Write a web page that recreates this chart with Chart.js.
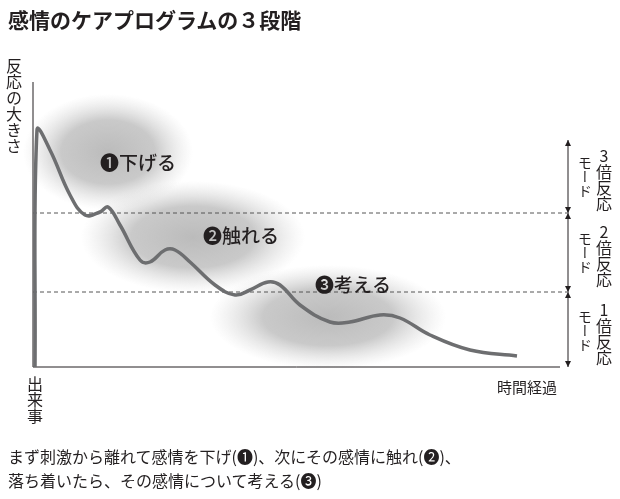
<!DOCTYPE html>
<html><head><meta charset="utf-8">
<script src="https://cdn.jsdelivr.net/npm/chart.js@4"></script>
<style>
body{margin:0;background:#fff;font-family:"Noto Sans CJK JP",sans-serif;color:#231f20}
#wrap{position:relative;width:620px;height:499px}
canvas{position:absolute;left:0;top:0}
.t{position:absolute;white-space:nowrap}
.v{position:absolute;writing-mode:vertical-rl;text-orientation:upright;font-size:16px;line-height:1;letter-spacing:0}
.mode{position:absolute;writing-mode:vertical-rl;font-size:14px;line-height:1}
</style></head><body>
<div id="wrap">
<canvas id="c" width="620" height="499"></canvas>
<div class="t" style="left:8px;top:4px;font-size:21px;font-weight:bold">感情のケアプログラムの３段階</div>
<div class="v" style="left:6px;top:58px">反応の大きさ</div>
<div class="v" style="left:27px;top:376px">出来事</div>
<div class="t" style="left:497px;top:376px;font-size:15px">時間経過</div>
<div class="t" style="left:8px;top:444px;font-size:16px;line-height:24px">まず刺激から離れて感情を下げ(❶)、次にその感情に触れ(❷)、<br>落ち着いたら、その感情について考える(❸)</div>
<div class="mode" style="left:578px;top:156px">モード</div><div class="v" style="left:596px;top:148px">3倍反応</div>
<div class="mode" style="left:578px;top:232px">モード</div><div class="v" style="left:596px;top:224px">2倍反応</div>
<div class="mode" style="left:578px;top:310px">モード</div><div class="v" style="left:596px;top:302px">1倍反応</div>
</div>
<script>
// curve (x: time, y: reaction size)
const curveX = [2, 4, 17, 37, 52, 67, 75, 87, 107, 117, 132, 142, 157, 182, 202, 217, 235, 247, 267, 297, 317, 347, 367, 397, 437, 484];
const curveY = [0, 237, 217, 172, 152, 155, 160, 142, 107, 105, 117, 117, 105, 82, 72, 77, 85, 82, 62, 45, 45, 52, 49, 32, 17, 11];
const levelLines = [154, 75];
const bracketMarks = [227, 154, 75, 0];
const blobs = [
  {x: 75, y: 215, rx: 85, ry: 58, label: '❶下げる'},
  {x: 160, y: 130, rx: 112, ry: 56, label: '❷触れる'},
  {x: 295, y: 50, rx: 118, ry: 52, label: '❸考える'}
];
const labelPos = [[67, 204], [170, 131], [282, 82]];

const deco = {
  id: 'deco',
  beforeDatasetsDraw(chart) {
    const {ctx, chartArea: a, scales: {x, y}} = chart;
    ctx.save();
    blobs.forEach(b => {
      const cx = x.getPixelForValue(b.x), cy = y.getPixelForValue(b.y);
      ctx.save();
      ctx.translate(cx, cy); ctx.scale(b.rx / b.ry, 1);
      const g = ctx.createRadialGradient(0, 0, 0, 0, 0, b.ry);
      g.addColorStop(0, 'rgba(180,180,180,0.9)');
      g.addColorStop(0.55, 'rgba(188,188,188,0.8)');
      g.addColorStop(1, 'rgba(215,215,215,0)');
      ctx.fillStyle = g;
      ctx.beginPath(); ctx.arc(0, 0, b.ry, 0, Math.PI * 2); ctx.fill();
      ctx.restore();
    });
    ctx.strokeStyle = '#555'; ctx.lineWidth = 1; ctx.setLineDash([4, 3]);
    levelLines.forEach(v => {
      const py = y.getPixelForValue(v);
      ctx.beginPath(); ctx.moveTo(a.left, py); ctx.lineTo(a.right + 7, py); ctx.stroke();
    });
    ctx.setLineDash([]);
    ctx.strokeStyle = '#231f20';
    ctx.beginPath(); ctx.moveTo(a.left, a.top); ctx.lineTo(a.left, a.bottom); ctx.lineTo(a.right, a.bottom); ctx.stroke();
    const bx = a.right + 8;
    ctx.beginPath(); ctx.moveTo(bx, y.getPixelForValue(bracketMarks[0])); ctx.lineTo(bx, a.bottom); ctx.stroke();
    ctx.fillStyle = '#231f20';
    bracketMarks.forEach((v, i) => {
      const py = y.getPixelForValue(v);
      if (i < bracketMarks.length - 1) { ctx.beginPath(); ctx.moveTo(bx, py); ctx.lineTo(bx - 3, py + 6); ctx.lineTo(bx + 3, py + 6); ctx.fill(); }
      if (i > 0) { ctx.beginPath(); ctx.moveTo(bx, py); ctx.lineTo(bx - 3, py - 6); ctx.lineTo(bx + 3, py - 6); ctx.fill(); }
    });
    ctx.restore();
  },
  afterDatasetsDraw(chart) {
    const {ctx, scales: {x, y}} = chart;
    ctx.save();
    ctx.fillStyle = '#231f20';
    ctx.font = '500 19px "Noto Sans CJK JP"';
    ctx.textBaseline = 'middle';
    blobs.forEach((b, i) => ctx.fillText(b.label, x.getPixelForValue(labelPos[i][0]), y.getPixelForValue(labelPos[i][1])));
    ctx.restore();
  }
};

new Chart(document.getElementById('c'), {
  type: 'line',
  data: {
    datasets: [{
      data: curveX.map((v, i) => ({x: v, y: curveY[i]})),
      borderColor: '#6d6e70', borderWidth: 3.5, tension: 0.4, pointRadius: 0, fill: false
    }]
  },
  options: {
    responsive: false, animation: false,
    layout: {padding: {left: 33, right: 60, top: 82, bottom: 132}},
    plugins: {legend: {display: false}, tooltip: {enabled: false}},
    scales: {
      x: {type: 'linear', min: 0, max: 527, display: false},
      y: {min: 0, max: 285, display: false}
    }
  },
  plugins: [deco]
});
</script>
</body></html>
